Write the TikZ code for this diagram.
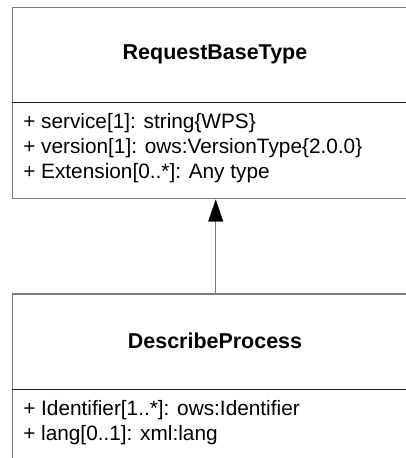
\documentclass[tikz,border=0pt]{standalone}
\usepackage{fontspec}
\setmainfont{Liberation Sans}
\usetikzlibrary{arrows.meta}
\definecolor{boxgray}{HTML}{7A7A7A}
\definecolor{divline}{HTML}{1A1A1A}
\tikzset{
  classbox/.style={draw=boxgray, line width=1.1pt, fill=white, anchor=north west, minimum width=304.5pt, inner sep=0pt},
  divider/.style={draw=divline, line width=0.8pt},
  titletext/.style={font=\fontsize{16.1}{18.75}\selectfont\bfseries, inner sep=0pt},
  attrtext/.style={font=\fontsize{15.6}{18.75}\selectfont, align=left, anchor=north west, inner sep=0pt},
  inherit/.style={draw=boxgray, line width=1.1pt, -{Triangle[length=16.5pt, width=11.25pt, color=black, fill=black, line width=0.3pt]}}
}
\begin{document}
\begin{tikzpicture}[x=0.75pt, y=-0.75pt]
\useasboundingbox (0,0) rectangle (406,458);
% RequestBaseType
\node[classbox, minimum height=143.25pt] (base) at (12,7) {};
\coordinate (bdl) at (12,102.3);
\coordinate (bdr) at (418,102.3);
\draw[divider] (bdl) -- (bdr);
\node[titletext] (basetitle) at (215,54.5) {RequestBaseType};
\node[attrtext] (baseattr) at (23,113) {+ service[1]: string\{WPS\}\\+ version[1]: ows:VersionType\{2.0.0\}\\+ Extension[0..*]: Any type};
% DescribeProcess
\node[classbox, minimum height=150pt] (sub) at (12,293.3) {};
\coordinate (sdl) at (12,389.3);
\coordinate (sdr) at (418,389.3);
\draw[divider] (sdl) -- (sdr);
\node[titletext] (subtitle) at (215,341.3) {DescribeProcess};
\node[attrtext] (subattr) at (23,400) {+ Identifier[1..*]: ows:Identifier\\+ lang[0..1]: xml:lang};
% generalization
\draw[inherit] (sub.north) -- (base.south);
\end{tikzpicture}
\end{document}
